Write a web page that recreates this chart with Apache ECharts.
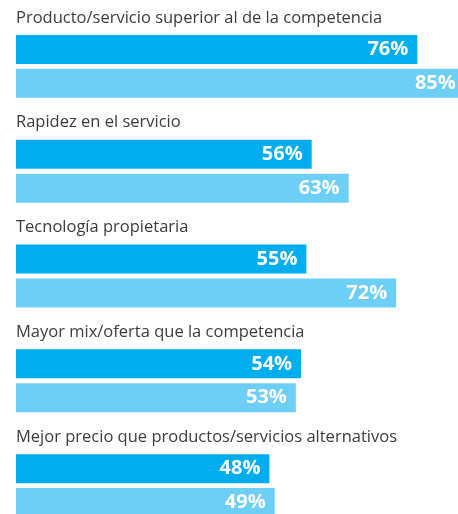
<!DOCTYPE html>
<html>
<head>
<meta charset="utf-8">
<script src="https://cdn.jsdelivr.net/npm/echarts@6/dist/echarts.min.js"></script>
<style>
  html, body { margin: 0; padding: 0; background: #fff; overflow: hidden; }
  /* el lienzo es mayor que la ventana: la barra de 85% queda cortada como en el original */
  #chart { width: 560px; height: 560px; }
</style>
</head>
<body>
<div id="chart"></div>
<script>
// categorías y valores (%)
const categories = [
  'Producto/servicio superior al de la competencia',
  'Rapidez en el servicio',
  'Tecnología propietaria',
  'Mayor mix/oferta que la competencia',
  'Mejor precio que productos/servicios alternativos'
]
const serieA = [76, 56, 55, 54, 48]
const serieB = [85, 63, 72, 53, 49]

const myChart = echarts.init(document.getElementById('chart'))

const barLabel = {
  show: true,
  position: 'insideRight',
  distance: 9,
  color: '#fff',
  fontFamily: 'Open Sans',
  fontWeight: 'bold',
  fontSize: 20,
  formatter: '{c}%'
}

myChart.setOption({
  animation: false,
  grid: { left: 16, top: 14, width: 528, height: 524 },
  xAxis: {
    type: 'value',
    min: 0,
    max: 100,
    show: false
  },
  yAxis: {
    type: 'category',
    data: categories,
    inverse: true,
    axisLine: { show: false },
    axisTick: { show: false },
    splitLine: { show: false },
    axisLabel: {
      inside: true,
      margin: 0,
      align: 'left',
      verticalAlign: 'bottom',
      padding: [0, 0, 40, 0],
      color: '#3c3c3c',
      fontFamily: 'Open Sans',
      fontSize: 16.5
    }
  },
  series: [
    {
      name: 'A',
      type: 'bar',
      data: serieA,
      barWidth: 29,
      barGap: '17%',
      itemStyle: { color: '#00aeef' },
      label: barLabel
    },
    {
      name: 'B',
      type: 'bar',
      data: serieB,
      barWidth: 29,
      itemStyle: { color: '#6dcff6' },
      label: barLabel
    }
  ]
})
</script>
</body>
</html>
